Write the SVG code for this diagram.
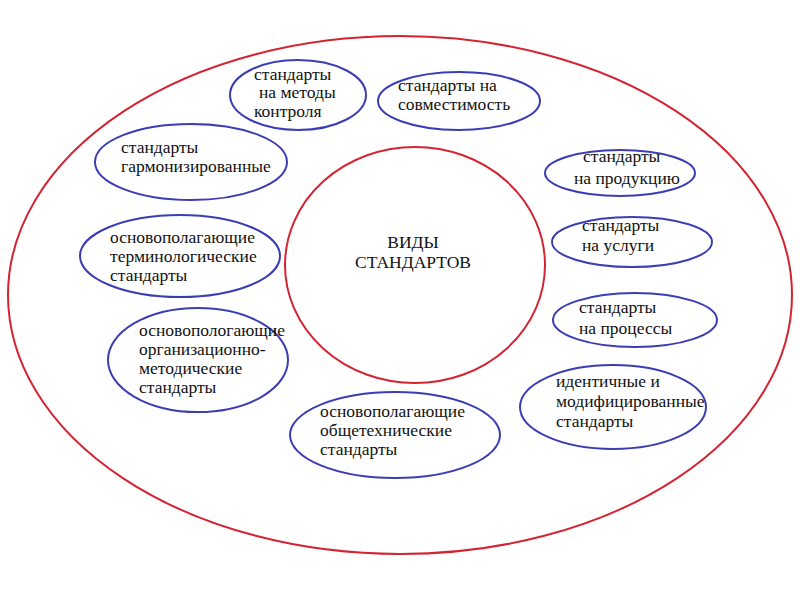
<svg xmlns="http://www.w3.org/2000/svg" width="800" height="600" viewBox="0 0 800 600">
<style>
.red{fill:none;stroke:#d42433;stroke-width:2}
.blue{fill:none;stroke:#3c3cb4;stroke-width:2}
</style>
<rect width="800" height="600" fill="#fff"/>
<g id="outer"><ellipse class="red" cx="400" cy="295" rx="392" ry="259"/></g>
<g id="center"><ellipse class="red" cx="415" cy="265" rx="130" ry="118"/>
<text font-family="Liberation Serif" font-size="17.5" fill="#111" x="413" y="248" text-anchor="middle">ВИДЫ</text><text font-family="Liberation Serif" font-size="17.5" fill="#111" x="413" y="268" text-anchor="middle">СТАНДАРТОВ</text></g>
<g id="n1"><ellipse class="blue" cx="298" cy="95" rx="68" ry="35"/>
<text font-family="Liberation Serif" font-size="17.5" fill="#111" x="254" y="80">стандарты</text><text font-family="Liberation Serif" font-size="17.5" fill="#111" x="259" y="98">на методы</text><text font-family="Liberation Serif" font-size="17.5" fill="#111" x="254" y="117">контроля</text></g>
<g id="n2"><ellipse class="blue" cx="459" cy="101" rx="81" ry="29"/>
<text font-family="Liberation Serif" font-size="17.5" fill="#111" x="398" y="91">стандарты на</text><text font-family="Liberation Serif" font-size="17.5" fill="#111" x="398" y="110">совместимость</text></g>
<g id="n3"><ellipse class="blue" cx="191" cy="162" rx="96" ry="38"/>
<text font-family="Liberation Serif" font-size="17.5" fill="#111" x="121" y="153">стандарты</text><text font-family="Liberation Serif" font-size="17.5" fill="#111" x="121" y="172">гармонизированные</text></g>
<g id="n4"><ellipse class="blue" cx="180" cy="256" rx="100" ry="41"/>
<text font-family="Liberation Serif" font-size="17.5" fill="#111" x="110" y="243">основополагающие</text><text font-family="Liberation Serif" font-size="17.5" fill="#111" x="110" y="262">терминологические</text><text font-family="Liberation Serif" font-size="17.5" fill="#111" x="110" y="281">стандарты</text></g>
<g id="n5"><ellipse class="blue" cx="198" cy="360" rx="90" ry="52"/>
<text font-family="Liberation Serif" font-size="17.5" fill="#111" x="139" y="336">основопологающие</text><text font-family="Liberation Serif" font-size="17.5" fill="#111" x="139" y="355">организационно-</text><text font-family="Liberation Serif" font-size="17.5" fill="#111" x="139" y="374">методические</text><text font-family="Liberation Serif" font-size="17.5" fill="#111" x="139" y="393">стандарты</text></g>
<g id="n6"><ellipse class="blue" cx="395" cy="435" rx="105" ry="43"/>
<text font-family="Liberation Serif" font-size="17.5" fill="#111" x="320" y="417">основополагающие</text><text font-family="Liberation Serif" font-size="17.5" fill="#111" x="320" y="436">общетехнические</text><text font-family="Liberation Serif" font-size="17.5" fill="#111" x="320" y="455">стандарты</text></g>
<g id="n7"><ellipse class="blue" cx="620" cy="173" rx="75" ry="23"/>
<text font-family="Liberation Serif" font-size="17.5" fill="#111" x="583" y="162">стандарты</text><text font-family="Liberation Serif" font-size="17.5" fill="#111" x="574" y="184">на продукцию</text></g>
<g id="n8"><ellipse class="blue" cx="632" cy="242" rx="80" ry="25"/>
<text font-family="Liberation Serif" font-size="17.5" fill="#111" x="582" y="231">стандарты</text><text font-family="Liberation Serif" font-size="17.5" fill="#111" x="582" y="251">на услуги</text></g>
<g id="n9"><ellipse class="blue" cx="635" cy="320" rx="82" ry="27"/>
<text font-family="Liberation Serif" font-size="17.5" fill="#111" x="579" y="313">стандарты</text><text font-family="Liberation Serif" font-size="17.5" fill="#111" x="579" y="334">на процессы</text></g>
<g id="n10"><ellipse class="blue" cx="613" cy="407" rx="93" ry="42"/>
<text font-family="Liberation Serif" font-size="17.5" fill="#111" x="556" y="387">идентичные и</text><text font-family="Liberation Serif" font-size="17.5" fill="#111" x="556" y="407">модифицированные</text><text font-family="Liberation Serif" font-size="17.5" fill="#111" x="556" y="427">стандарты</text></g>
<g id="connectors"></g>
</svg>
